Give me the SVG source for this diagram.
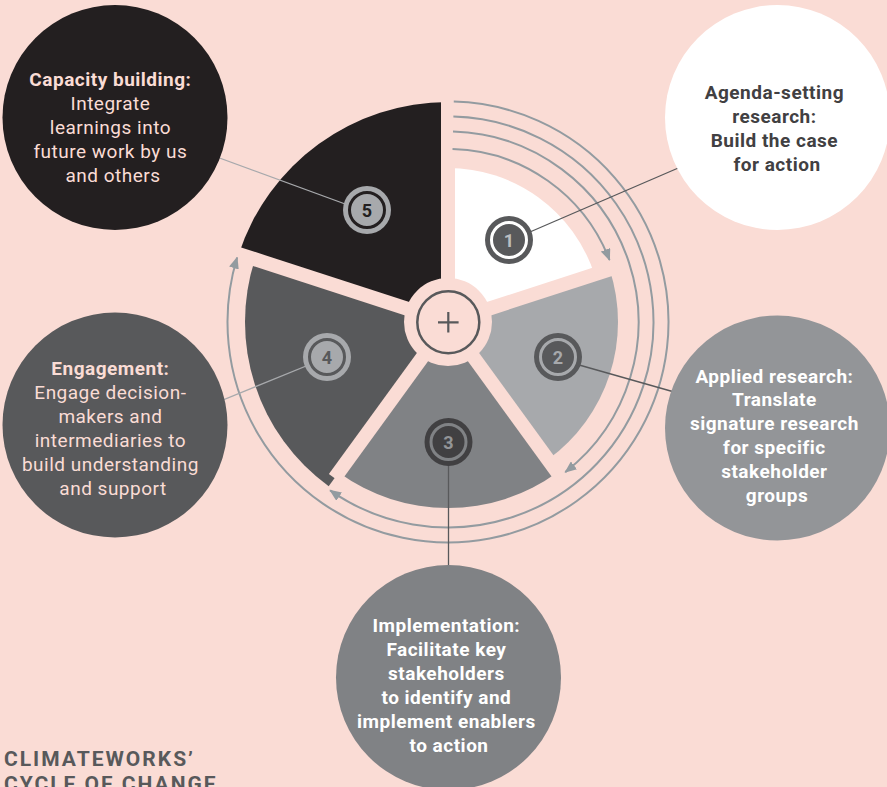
<svg xmlns="http://www.w3.org/2000/svg" width="887" height="787" viewBox="0 0 887 787">
<defs>
<style>
.t{font-family:Roboto,"Liberation Sans",sans-serif;text-anchor:middle;font-size:19px;letter-spacing:0.5px}
.b{font-weight:bold}
.gap{stroke:#fadcd5;stroke-width:14;stroke-linecap:butt}
.arc{fill:none;stroke:#939ba0;stroke-width:2;marker-end:url(#ah)}
.num{font-family:Roboto,"Liberation Sans",sans-serif;font-weight:bold;font-size:18px;text-anchor:middle}
.lead{fill:none;stroke-width:1.3}
</style>
<marker id="ah" markerWidth="12" markerHeight="10" refX="11" refY="5" orient="auto" markerUnits="userSpaceOnUse">
<path d="M0,0 L12,5 L0,10 z" fill="#939ba0"/>
</marker>
</defs>
<rect width="887" height="787" fill="#fadcd5"/>

<g id="wheel">
<path d="M448,322 L448,168 A154,154 0 0 1 594.46,274.41 Z" fill="#ffffff"/>
<path d="M448,322 L609.68,269.47 A170,170 0 0 1 547.92,459.53 Z" fill="#a7a9ac"/>
<path d="M448,322 L557.33,472.48 A186,186 0 0 1 338.67,472.48 Z" fill="#808285"/>
<path d="M448,322 L328.68,486.23 A203,203 0 0 1 254.93,259.27 Z" fill="#58595b"/>
<path d="M448,322 L238.77,254.02 A220,220 0 0 1 448,102 Z" fill="#231f20"/>
<line class="gap" x1="448" y1="322" x2="448" y2="96"/>
<line class="gap" x1="448" y1="322" x2="615.38" y2="267.62"/>
<line class="gap" x1="448" y1="322" x2="561.44" y2="478.14"/>
<line class="gap" x1="448" y1="322" x2="334.56" y2="478.14"/>
<line class="gap" x1="448" y1="322" x2="232.06" y2="251.84"/>
<circle cx="448" cy="322" r="44" fill="#fadcd5"/>
<circle cx="448.3" cy="322.3" r="31" fill="#fadcd5" stroke="#58595b" stroke-width="2.5"/>
<path d="M438,322.3 H458.6 M448.3,312 V332.6" stroke="#58595b" stroke-width="2.2"/>
</g>

<g id="connectors">
<path class="arc" d="M452.53,149.06 A173,173 0 0 1 609.51,260"/>
<path class="arc" d="M452.99,131.57 A190.5,190.5 0 0 1 565.28,472.12"/>
<path class="arc" d="M453.38,116.57 A205.5,205.5 0 1 1 330.13,490.34"/>
<path class="arc" d="M453.77,101.58 A220.5,220.5 0 1 1 237.14,257.53"/>
<line class="lead" x1="509" y1="241" x2="720" y2="150" stroke="#58595b"/>
<line class="lead" x1="558" y1="359" x2="720" y2="405" stroke="#58595b"/>
<line class="lead" x1="448.5" y1="442" x2="448.5" y2="600" stroke="#58595b"/>
<line class="lead" x1="327" y1="357.5" x2="180" y2="417.5" stroke="#a7a9ac"/>
<line class="lead" x1="367" y1="212" x2="180" y2="143.5" stroke="#a7a9ac"/>
</g>

<g id="badge1">
<circle cx="509" cy="240" r="24" fill="#58595b"/>
<circle cx="509" cy="240" r="17.5" fill="none" stroke="#ffffff" stroke-width="3"/>
<text class="num" x="509" y="246.5" fill="#bcbec0">1</text>
</g>
<g id="badge2">
<circle cx="558" cy="357" r="24" fill="#58595b"/>
<circle cx="558" cy="357" r="17.5" fill="none" stroke="#a7a9ac" stroke-width="3"/>
<text class="num" x="558" y="363.5" fill="#a7a9ac">2</text>
</g>
<g id="badge3">
<circle cx="448.5" cy="442" r="24" fill="#414042"/>
<circle cx="448.5" cy="442" r="17.5" fill="none" stroke="#808285" stroke-width="3"/>
<text class="num" x="448.5" y="448.5" fill="#939598">3</text>
</g>
<g id="badge4">
<circle cx="327" cy="357" r="24" fill="#a7a9ac"/>
<circle cx="327" cy="357" r="17.5" fill="none" stroke="#58595b" stroke-width="3"/>
<text class="num" x="327" y="363.5" fill="#58595b">4</text>
</g>
<g id="badge5">
<circle cx="367" cy="210" r="24" fill="#a7a9ac"/>
<circle cx="367" cy="210" r="17.5" fill="none" stroke="#231f20" stroke-width="3"/>
<text class="num" x="367" y="216.5" fill="#231f20">5</text>
</g>

<g id="node-capacity">
<circle cx="115" cy="117.5" r="112.5" fill="#231f20"/>
<text class="t" fill="#fadcd5">
<tspan class="b" x="113" y="86">Capacity building:</tspan>
<tspan x="113" y="110">Integrate</tspan>
<tspan x="113" y="134">learnings into</tspan>
<tspan x="113" y="158">future work by us</tspan>
<tspan x="113" y="182">and others</tspan>
</text>
</g>

<g id="node-agenda">
<circle cx="777.5" cy="117.5" r="112.5" fill="#ffffff"/>
<text class="t b" fill="#414042">
<tspan x="777" y="99">Agenda-setting</tspan>
<tspan x="777" y="123">research:</tspan>
<tspan x="777" y="147">Build the case</tspan>
<tspan x="777" y="171">for action</tspan>
</text>
</g>

<g id="node-applied">
<circle cx="777.5" cy="428" r="112.5" fill="#939598"/>
<text class="t b" fill="#ffffff">
<tspan x="777" y="383">Applied research:</tspan>
<tspan x="777" y="406">Translate</tspan>
<tspan x="777" y="430">signature research</tspan>
<tspan x="777" y="454">for specific</tspan>
<tspan x="777" y="478">stakeholder</tspan>
<tspan x="777" y="502">groups</tspan>
</text>
</g>

<g id="node-implementation">
<circle cx="448.5" cy="677.5" r="112.5" fill="#808285"/>
<text class="t b" fill="#ffffff">
<tspan x="449" y="632">Implementation:</tspan>
<tspan x="449" y="656">Facilitate key</tspan>
<tspan x="449" y="680">stakeholders</tspan>
<tspan x="449" y="704">to identify and</tspan>
<tspan x="449" y="728">implement enablers</tspan>
<tspan x="449" y="752">to action</tspan>
</text>
</g>

<g id="node-engagement">
<circle cx="115" cy="425" r="112.5" fill="#58595b"/>
<text class="t" fill="#fadcd5">
<tspan class="b" x="113" y="375">Engagement:</tspan>
<tspan x="113" y="399">Engage decision-</tspan>
<tspan x="113" y="423">makers and</tspan>
<tspan x="113" y="447">intermediaries to</tspan>
<tspan x="113" y="471">build understanding</tspan>
<tspan x="113" y="495">and support</tspan>
</text>
</g>

<g id="title">
<text font-family="Roboto,'Liberation Sans',sans-serif" font-weight="bold" font-size="21" letter-spacing="2" fill="#58595b">
<tspan x="4" y="766">CLIMATEWORKS’</tspan>
<tspan x="4" y="791">CYCLE OF CHANGE</tspan>
</text>
</g>
</svg>
